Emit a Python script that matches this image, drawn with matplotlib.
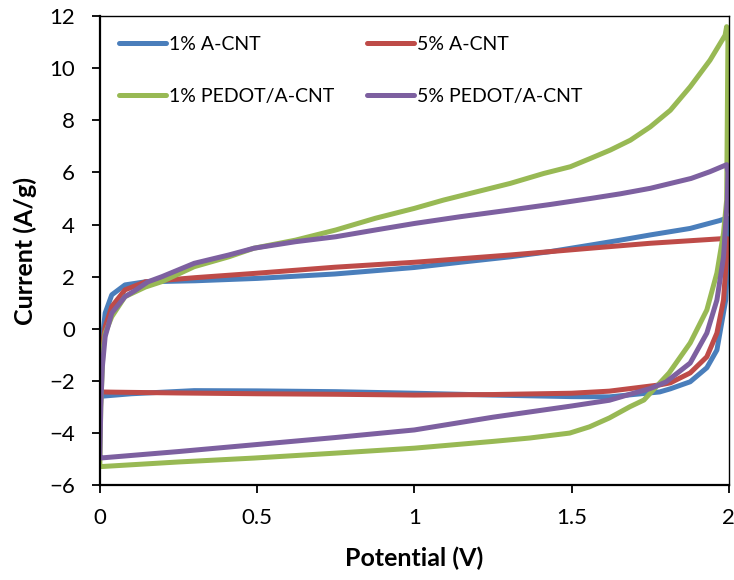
import matplotlib
matplotlib.use("Agg")
import matplotlib.pyplot as plt

plt.rcParams['font.family'] = ['Lato', 'DejaVu Sans']

# CV loops: anodic sweep 0 -> 2 V, then cathodic sweep back 2 -> 0 V
v_1cnt = [0, 0.004, 0.008, 0.017, 0.038, 0.08, 0.145, 0.304, 0.5, 0.747, 1.0, 1.146, 1.305, 1.432, 1.56, 1.655,
          1.75, 1.877, 1.97, 1.995,
          2.0, 1.99, 1.962, 1.93, 1.877, 1.814, 1.78, 1.62, 1.5, 1.25, 1.0, 0.75, 0.5, 0.3, 0.1, 0.0]
i_1cnt = [-2.6, -1.5, -0.4, 0.6, 1.3, 1.68, 1.8, 1.84, 1.93, 2.1, 2.35, 2.55, 2.76, 2.96, 3.21, 3.4,
          3.6, 3.85, 4.15, 4.25,
          3.67, 1.1, -0.82, -1.5, -2.04, -2.31, -2.43, -2.62, -2.61, -2.55, -2.48, -2.42, -2.39, -2.38, -2.5, -2.6]

v_5cnt = [0, 0.004, 0.01, 0.017, 0.038, 0.08, 0.145, 0.304, 0.5, 0.747, 1.0, 1.305, 1.56, 1.75, 1.97, 1.995,
          1.997, 1.994, 1.983, 1.962, 1.93, 1.877, 1.814, 1.78, 1.62, 1.5, 1.25, 1.0, 0.75, 0.5, 0.25, 0.05, 0.0]
i_5cnt = [-2.43, -1.5, -0.5, 0.07, 0.85, 1.49, 1.8, 1.96, 2.13, 2.36, 2.55, 2.83, 3.09, 3.28, 3.45, 3.46,
          3.4, 3.0, 1.1, -0.17, -1.08, -1.7, -2.08, -2.16, -2.4, -2.48, -2.53, -2.55, -2.52, -2.5, -2.47, -2.44, -2.43]

v_1pedot = [0, 0.003, 0.01, 0.017, 0.038, 0.08, 0.145, 0.198, 0.3, 0.41, 0.49, 0.622, 0.75, 0.876, 1.0, 1.093,
            1.199, 1.305, 1.411, 1.496, 1.56, 1.623, 1.687, 1.75, 1.814, 1.877, 1.94, 1.988, 1.993,
            1.997, 1.993, 1.983, 1.962, 1.93, 1.877, 1.81, 1.73, 1.685, 1.62, 1.557, 1.494, 1.367, 1.25, 1.0,
            0.75, 0.49, 0.25, 0.0]
i_1pedot = [-5.3, -3.0, -0.8, -0.17, 0.46, 1.23, 1.6, 1.81, 2.38, 2.76, 3.09, 3.4, 3.79, 4.24, 4.62, 4.94,
            5.26, 5.58, 5.96, 6.22, 6.54, 6.86, 7.24, 7.75, 8.39, 9.29, 10.31, 11.27, 11.6,
            11.0, 4.94, 3.67, 2.14, 0.72, -0.55, -1.7, -2.74, -3.0, -3.43, -3.77, -4.01, -4.2, -4.33, -4.59,
            -4.78, -4.97, -5.12, -5.3]

v_5pedot = [0, 0.003, 0.008, 0.017, 0.038, 0.08, 0.11, 0.153, 0.198, 0.3, 0.41, 0.49, 0.622, 0.75, 0.876, 1.0,
            1.146, 1.3, 1.432, 1.56, 1.655, 1.75, 1.88, 1.94, 1.993,
            1.997, 1.995, 1.983, 1.962, 1.93, 1.877, 1.8, 1.75, 1.685, 1.62, 1.5, 1.25, 1.0, 0.75, 0.49, 0.25, 0.0]
i_5pedot = [-4.97, -3.0, -1.47, -0.3, 0.6, 1.23, 1.45, 1.8, 2.0, 2.51, 2.83, 3.09, 3.34, 3.53, 3.79, 4.04,
            4.3, 4.55, 4.77, 5.0, 5.18, 5.39, 5.77, 6.03, 6.3,
            6.0, 4.94, 2.75, 1.1, -0.17, -1.32, -2.05, -2.3, -2.52, -2.75, -2.97, -3.4, -3.89, -4.18, -4.46, -4.72, -4.97]

labels = ['1% A-CNT', '5% A-CNT', '1% PEDOT/A-CNT', '5% PEDOT/A-CNT']
colors = ['#4A7EBB', '#BE4B48', '#98B954', '#7D60A0']
xticks = [0, 0.5, 1, 1.5, 2]
xticklabels = ['0', '0.5', '1', '1.5', '2']
yticks = [-6, -4, -2, 0, 2, 4, 6, 8, 10, 12]

fig = plt.figure(figsize=(7.34, 5.80), dpi=100)
ax = fig.add_axes([0.136, 0.164, 0.857, 0.808])

series = [(v_1cnt, i_1cnt), (v_5cnt, i_5cnt), (v_1pedot, i_1pedot), (v_5pedot, i_5pedot)]
lines = []
for (v, i), lab, c in zip(series, labels, colors):
    ln, = ax.plot(v, i, color=c, lw=3.6, label=lab, solid_joinstyle='round', solid_capstyle='round')
    lines.append(ln)

ax.set_xlim(0, 2)
ax.set_ylim(-6, 12)
ax.set_xticks(xticks)
ax.set_xticklabels(xticklabels)
ax.set_yticks(yticks)
ax.tick_params(direction='out', length=6, width=1.3, labelsize=16, top=False, right=False)
ax.tick_params(axis='y', pad=12)
ax.tick_params(axis='x', pad=11)
for s in ['left', 'bottom']:
    ax.spines[s].set_linewidth(1.6)
for s in ['top', 'right']:
    ax.spines[s].set_linewidth(1.0)

ax.set_xlabel('Potential (V)', fontsize=18, fontweight='bold')
ax.set_ylabel('Current (A/g)', fontsize=18, fontweight='bold')
ax.xaxis.set_label_coords(0.5, -0.132)
ax.yaxis.set_label_coords(-0.1, 0.5)

# legend order so that ncol=2 fills rows like the original
order = [0, 2, 1, 3]
ax.legend([lines[k] for k in order], [labels[k] for k in order], ncol=2, frameon=False,
          loc='upper left', bbox_to_anchor=(0.0, 1.0), fontsize=14, borderaxespad=0.6,
          handlelength=2.4, handletextpad=0.15, labelspacing=1.8, columnspacing=1.7)

fig.savefig('out.png', dpi=100)
